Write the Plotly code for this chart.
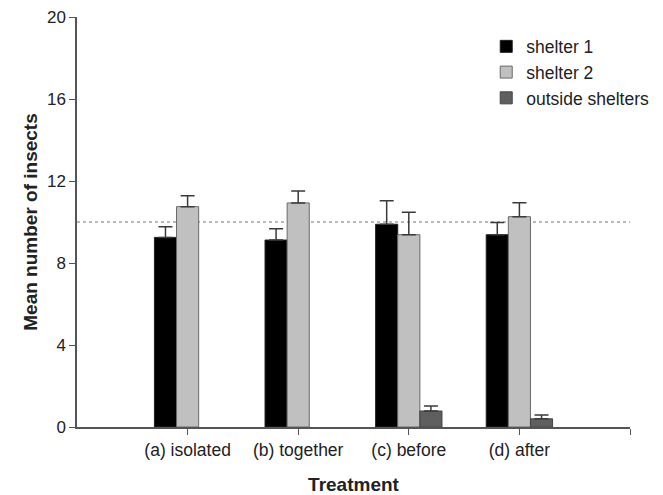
import plotly.graph_objects as go

categories = ["(a) isolated", "(b) together", "(c) before", "(d) after"]
shelter1 = [9.25, 9.12, 9.89, 9.38]
shelter1_err = [0.52, 0.55, 1.15, 0.60]
shelter2 = [10.75, 10.93, 9.38, 10.26]
shelter2_err = [0.53, 0.58, 1.10, 0.68]
outside = [None, None, 0.78, 0.40]
outside_err = [None, None, 0.24, 0.18]
y_ticks = [0, 4, 8, 12, 16, 20]
reference_level = 10

positions = list(range(1, len(categories) + 1))
font_family = "Liberation Sans, Arial, sans-serif"

series = [
    ("shelter 1", shelter1, shelter1_err, "#000000", "#222222"),
    ("shelter 2", shelter2, shelter2_err, "#c0c0c0", "#6a6a6a"),
    ("outside shelters", outside, outside_err, "#5f5f5f", "#444444"),
]

fig = go.Figure()
for name, vals, errs, color, line in series:
    fig.add_trace(go.Bar(
        name=name,
        x=positions,
        y=vals,
        marker=dict(color=color, line=dict(color=line, width=1)),
        error_y=dict(type="data", array=errs, arrayminus=[0] * len(errs),
                     symmetric=False, color="#3a3a3a", thickness=1.5, width=7),
    ))

fig.add_hline(y=reference_level, line=dict(color="#777777", width=1.2, dash="dot"),
              layer="below")

# the page body adds an 8px margin, so the figure is sized to fit inside it
fig.update_layout(
    width=655, height=487,
    margin=dict(l=69, r=20, t=9, b=68),
    plot_bgcolor="white", paper_bgcolor="white",
    barmode="group", bargap=0.4, bargroupgap=0,
    font=dict(family=font_family, size=17, color="#222222"),
    showlegend=True,
    legend=dict(x=0.74, y=0.972, xanchor="left", yanchor="top",
                font=dict(size=17.5, color="#222222"), tracegroupgap=0,
                itemwidth=30, bgcolor="rgba(0,0,0,0)"),
    xaxis=dict(
        range=[0, len(categories) + 1],
        tickvals=positions + [len(categories) + 1],
        ticktext=categories + [""],
        showline=True, linecolor="#555555", linewidth=1.5,
        ticks="outside", ticklen=6, tickcolor="#555555", tickwidth=1.2,
        showgrid=False, zeroline=False, automargin=False,
        tickfont=dict(size=17.5),
        title=dict(text="<b>Treatment</b>", font=dict(size=19), standoff=19),
    ),
    yaxis=dict(
        range=[0, 20],
        tickvals=y_ticks,
        showline=True, linecolor="#555555", linewidth=1.5,
        ticks="outside", ticklen=6, tickcolor="#555555", tickwidth=1.2,
        showgrid=False, zeroline=False, automargin=False,
        ticklabeloverflow="allow",
        tickfont=dict(size=17),
        title=dict(text="<b>Mean number of insects</b>", font=dict(size=19), standoff=4),
    ),
)

fig.write_html("out.html")
